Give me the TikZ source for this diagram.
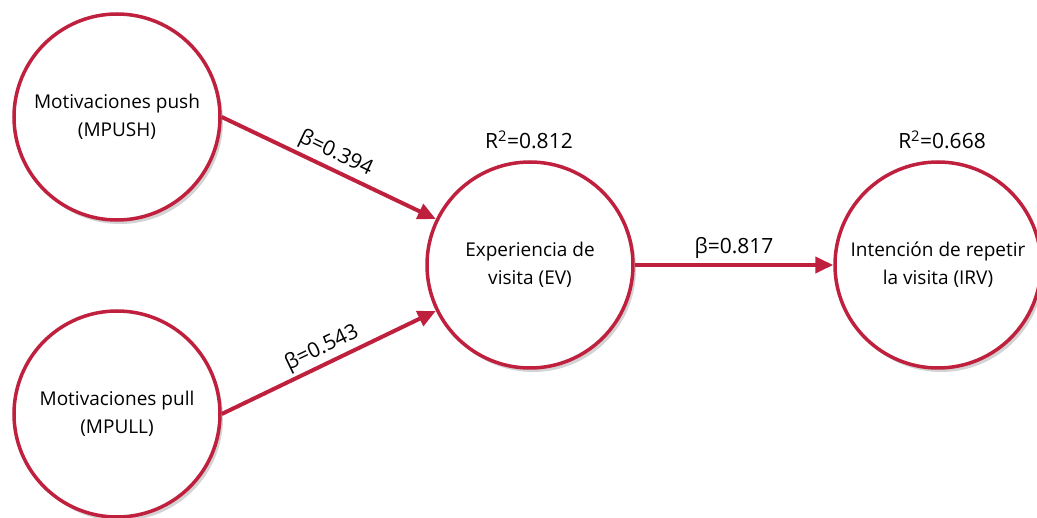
\documentclass[tikz,border=0pt]{standalone}
\usepackage{fontspec}
\setmainfont{Open Sans}
\usetikzlibrary{arrows.meta,shadows}
\definecolor{crim}{RGB}{190,32,62}
\begin{document}
\begin{tikzpicture}[x=1pt,y=-1pt,
      construct/.style={
        % The shape:
        circle,minimum size=206pt,inner sep=0pt,align=center,
        % The rest
        line width=3.5pt,draw=crim,fill=white,
        drop shadow={shadow xshift=3pt,shadow yshift=-4pt,opacity=0.35},
        font=\fontsize{19}{28}\selectfont},
      path/.style={line width=4pt,draw=crim,-{Triangle[length=18pt,width=16pt]}},
      coef/.style={font=\fontsize{21}{24}\selectfont}]
    \useasboundingbox (0,0) rectangle (1037,518);
    \node(push)[construct] at (117,117) {Motivaciones push\\(MPUSH)};
    \node(pull)[construct] at (117,414) {Motivaciones pull\\(MPULL)};
    \node(ev)[construct] at (530,265) {Experiencia de\\visita (EV)};
    \node(irv)[construct] at (938,265) {Intención de repetir\\la visita (IRV)};
    \node(rev)[coef] at (529,140) {R\textsuperscript{2}=0.812};
    \node(rirv)[coef] at (942,140) {R\textsuperscript{2}=0.668};
    \path (push.east) edge[path] node[coef, sloped, above=0pt] {β=0.394} (ev.154);
    \path (pull.east) edge[path] node[coef, sloped, above=0pt] {β=0.543} (ev.206);
    \path (ev) edge[path] node[coef, above=1pt] {β=0.817} (irv);
  \end{tikzpicture}
\end{document}
